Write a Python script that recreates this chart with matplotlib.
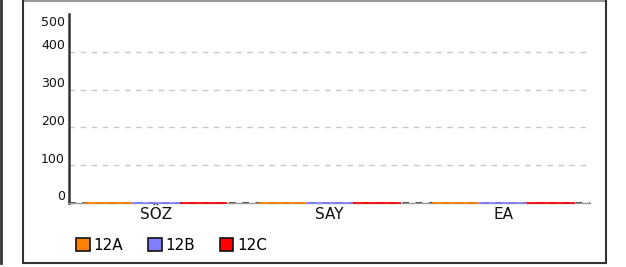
import matplotlib.pyplot as plt
import matplotlib.transforms as mtransforms
from matplotlib.lines import Line2D
import numpy as np

# chart data
categories = ["SÖZ", "SAY", "EA"]
series_names = ["12A", "12B", "12C"]
series_values = {
    "12A": [0, 0, 0],
    "12B": [0, 0, 0],
    "12C": [0, 0, 0],
}
colors = ["#ff8000", "#7f7fff", "#ff0000"]
yticks = [0, 100, 200, 300, 400]
ytop = 500

fig = plt.figure(figsize=(6.26, 2.67), dpi=100)
W, H = 626, 267

ax = fig.add_axes([69 / W, (H - 203) / H, 521 / W, (203 - 14) / H])
ax.set_xlim(-0.5, len(categories) - 0.5)
ax.set_ylim(0, ytop)

# gridlines
for t in yticks[1:]:
    ax.axhline(t, color="#c8c8c8", linestyle=(0, (4, 4)), linewidth=1, zorder=1)
ax.axhline(0, color="#222222", linestyle=(0, (4, 4)), linewidth=1.2, zorder=1)

x = np.arange(len(categories))
bw = 0.275
for i, name in enumerate(series_names):
    bars = ax.bar(x + (i - 1) * bw, series_values[name], width=bw, color=colors[i],
                  edgecolor=colors[i], linewidth=1.2, zorder=3, label=name)
    for b in bars:
        b.set_clip_on(False)

ax.spines["top"].set_visible(False)
ax.spines["right"].set_visible(False)
ax.spines["left"].set_color("#333333")
ax.spines["left"].set_linewidth(1.8)
ax.spines["bottom"].set_color("#999999")
ax.spines["bottom"].set_linewidth(1)
ax.set_yticks([])
ax.set_xticks(x)
ax.set_xticklabels(categories, fontsize=11, color="#111111")
ax.tick_params(axis="x", length=0, pad=3)

# y labels, slightly above the gridlines
off = mtransforms.ScaledTranslation(-3 / 72, 6 / 100, fig.dpi_scale_trans)
for t in yticks:
    ax.text(0, t, str(t), transform=ax.get_yaxis_transform() + off,
            ha="right", va="center", fontsize=9, color="#111111")
off_top = mtransforms.ScaledTranslation(-3 / 72, -2 / 100, fig.dpi_scale_trans)
ax.text(0, ytop, str(ytop), transform=ax.get_yaxis_transform() + off_top,
        ha="right", va="top", fontsize=9, color="#111111")

leg = fig.legend(loc="lower left", bbox_to_anchor=(70 / W, (H - 259) / H),
                 ncol=3, frameon=False, fontsize=11, handlelength=0.9,
                 handleheight=0.9, handletextpad=0.25, columnspacing=1.6,
                 borderaxespad=0)
for p in leg.get_patches():
    p.set_edgecolor("#111111")
    p.set_linewidth(1.2)

# outer frame
def px(xs, ys):
    return [v / W for v in xs], [1 - v / H for v in ys]

for xs, ys, c, lw in [
    ([23, 606], [0.5, 0.5], "#999999", 1.5),
    ([23, 23], [0, 263], "#333333", 1.5),
    ([606, 606], [0, 263], "#333333", 1.5),
    ([23, 606], [263, 263], "#333333", 1.5),
    ([1, 1], [0, 263], "#333333", 2),
]:
    a, b = px(xs, ys)
    fig.add_artist(Line2D(a, b, color=c, linewidth=lw, transform=fig.transFigure))

fig.savefig("out.png", dpi=100)
